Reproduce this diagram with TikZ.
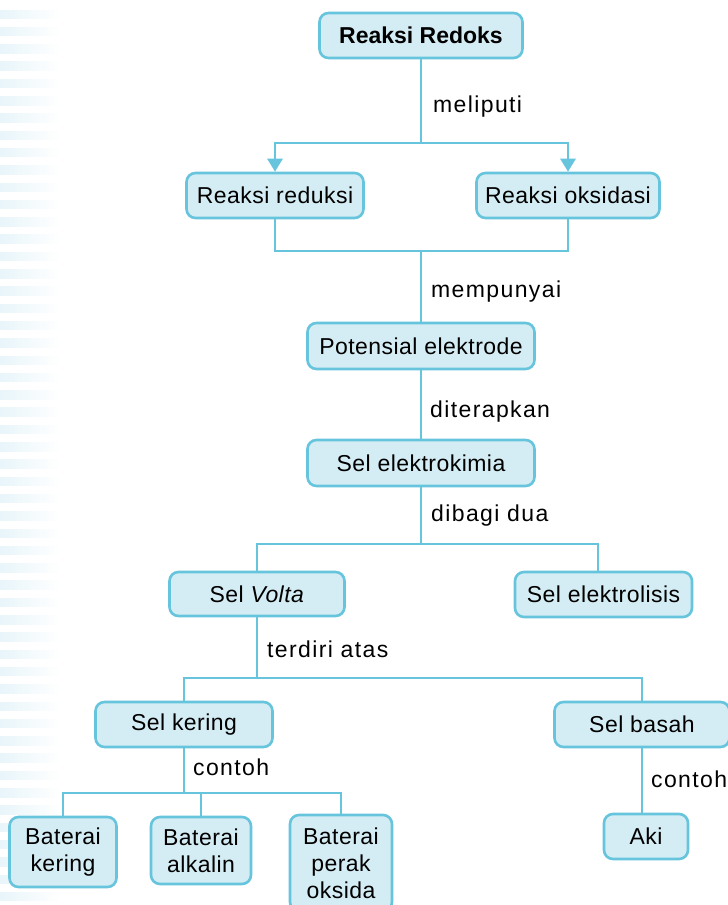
\documentclass[tikz,border=0pt]{standalone}
\usepackage{fontspec}
\setmainfont{Liberation Sans}[LetterSpace=2]
\usetikzlibrary{arrows.meta}
\definecolor{ln}{HTML}{66C4DC}
\definecolor{bx}{HTML}{D4EDF4}
\definecolor{stripe}{HTML}{E8F5FA}
\begin{document}
\begin{tikzpicture}[x=1bp,y=-1bp,
  box/.style={draw=ln, fill=bx, line width=2.6bp, rounded corners=9bp, inner sep=0pt,
    font=\fontsize{23bp}{27bp}\selectfont, align=center},
  conn/.style={draw=ln, line width=2.8bp},
  arr/.style={conn, -{Triangle[width=15bp,length=13bp]}},
  lbl/.style={inner sep=0pt, anchor=base west, font=\fontsize{23bp}{28bp}\selectfont\addfontfeatures{LetterSpace=6}}]
\useasboundingbox (0,0) rectangle (728,905);
% background stripes
\foreach \k in {0,...,52}
  \shade[left color=stripe, right color=white] (0,{10+17.3*\k}) rectangle (60,{18.5+17.3*\k});

% nodes
\node[box, minimum width=203bp, minimum height=45bp] (redoks) at (421,35.5) {\addfontfeatures{LetterSpace=0}\textbf{Reaksi Redoks}};
\node[box, minimum width=177bp, minimum height=45bp] (reduksi) at (275,195.5) {Reaksi reduksi};
\node[box, minimum width=183bp, minimum height=45bp] (oksidasi) at (568,195.5) {Reaksi oksidasi};
\node[box, minimum width=227bp, minimum height=46bp] (potensial) at (421,346) {Potensial elektrode};
\node[box, minimum width=227bp, minimum height=46bp] (kimia) at (421,463) {Sel elektrokimia};
\node[box, minimum width=175bp, minimum height=44bp] (volta) at (257,594) {Sel \textit{Volta}};
\node[box, minimum width=177bp, minimum height=45bp] (lisis) at (603.5,594.5) {Sel elektrolisis};
\node[box, minimum width=177bp, minimum height=45bp] (kering) at (184,724.5) {Sel kering};
\node[box, minimum width=175bp, minimum height=45bp] (basah) at (642,724.5) {Sel basah};
\node[box, minimum width=107bp, minimum height=70bp] (bkering) at (63,852) {Baterai\\kering};
\node[box, minimum width=100bp, minimum height=67bp] (balkalin) at (201,850.5) {Baterai\\alkalin};
\node[box, minimum width=102bp, minimum height=96bp] (bperak) at (341,863) {Baterai\\perak\\oksida};
\node[box, minimum width=84bp, minimum height=45bp] (aki) at (646,836.5) {Aki};

% junction coordinates
\coordinate (j1) at (421,143);
\coordinate (j2) at (421,251);
\coordinate (j3) at (421,544);
\coordinate (e1) at (598,544);
\coordinate (j4) at (257,678);
\coordinate (j5) at (184,793);

% connectors
\draw[conn] (redoks.south) -- (j1);
\draw[arr] (j1) -| (reduksi.north);
\draw[arr] (j1) -| (oksidasi.north);
\draw[conn] (reduksi.south) |- (j2) -| (oksidasi.south);
\draw[conn] (j2) -- (potensial.north);
\draw[conn] (potensial.south) -- (kimia.north);
\draw[conn] (kimia.south) -- (j3);
\draw[conn] (volta.north) |- (e1) -- (e1 |- lisis.north);
\draw[conn] (volta.south) -- (j4);
\draw[conn] (kering.north) |- (j4) -| (basah.north);
\draw[conn] (kering.south) -- (j5);
\draw[conn] (bkering.north) |- (j5) -| (bperak.north);
\draw[conn] (j5 -| balkalin.north) -- (balkalin.north);
\draw[conn] (basah.south) -- (basah.south |- aki.north);

% labels
\node[lbl] (l1) at (433,112) {meliputi};
\node[lbl] (l2) at (431,297) {mempunyai};
\node[lbl] (l3) at (430,417) {diterapkan};
\node[lbl] (l4) at (431,521) {dibagi dua};
\node[lbl] (l5) at (267,657) {terdiri atas};
\node[lbl] (l6) at (193,775) {contoh};
\node[lbl] (l7) at (651,787) {contoh};
\end{tikzpicture}
\end{document}
